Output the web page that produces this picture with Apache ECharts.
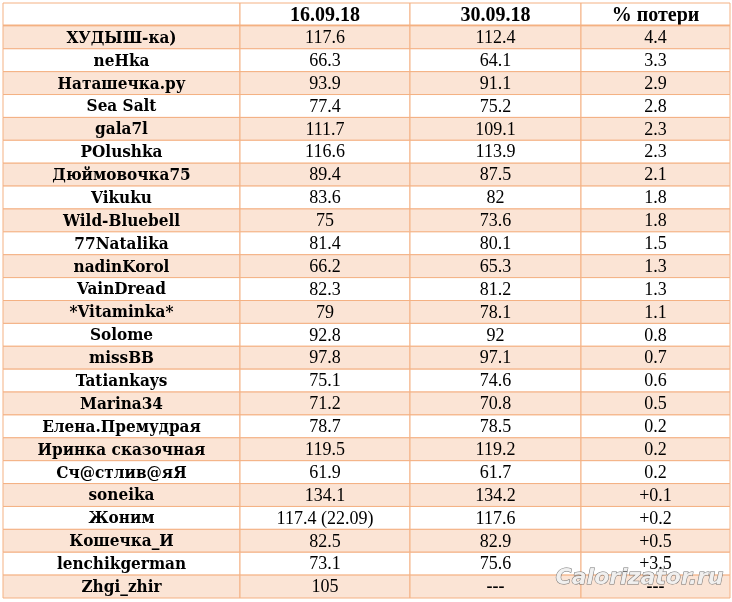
<!DOCTYPE html>
<html><head><meta charset="utf-8">
<script src="https://cdn.jsdelivr.net/npm/echarts@6/dist/echarts.min.js"></script>
<style>html,body{margin:0;padding:0;background:#fff}#c{width:732px;height:602px}</style>
</head><body><div id="c"></div>
<script>
const headers = ['', '16.09.18', '30.09.18', '% потери'];
const names = ['ХУДЫШ-ка)','neHka','Наташечка.ру','Sea Salt','gala7l','POlushka','Дюймовочка75','Vikuku','Wild-Bluebell','77Natalika','nadinKorol','VainDread','*Vitaminka*','Solome','missBB','Tatiankays','Marina34','Елена.Премудрая','Иринка сказочная','Сч@стлив@яЯ','soneika','Жоним','Кошечка_И','lenchikgerman','Zhgi_zhir'];
const weight1 = ['117.6','66.3','93.9','77.4','111.7','116.6','89.4','83.6','75','81.4','66.2','82.3','79','92.8','97.8','75.1','71.2','78.7','119.5','61.9','134.1','117.4 (22.09)','82.5','73.1','105'];
const weight2 = ['112.4','64.1','91.1','75.2','109.1','113.9','87.5','82','73.6','80.1','65.3','81.2','78.1','92','97.1','74.6','70.8','78.5','119.2','61.7','134.2','117.6','82.9','75.6','---'];
const loss = ['4.4','3.3','2.9','2.8','2.3','2.3','2.1','1.8','1.8','1.5','1.3','1.3','1.1','0.8','0.7','0.6','0.5','0.2','0.2','0.2','+0.1','+0.2','+0.5','+3.5','---'];

const colEdges = [0, 237, 407, 578, 727];
const rows = ['h'].concat(names.map((n,i)=>'r'+i));
const data = [];
headers.forEach((h,c)=>data.push([c,0,h]));
names.forEach((n,i)=>{
  [n, weight1[i], weight2[i], loss[i]].forEach((t,c)=>data.push([c,i+1,t]));
});
const chart = echarts.init(document.getElementById('c'));
chart.setOption({
  animation:false,
  grid:{left:3,right:2,top:3,bottom:4},
  xAxis:{type:'value',min:0,max:727,show:false},
  yAxis:{type:'category',data:rows,inverse:true,show:false},
  series:[{
    type:'custom',
    data:data,
    renderItem:function(params,api){
      const c=api.value(0), r=api.value(1);
      const text=data[params.dataIndex][2];
      const p0=api.coord([colEdges[c], rows[r]]);
      const p1=api.coord([colEdges[c+1], rows[r]]);
      const h=api.size([0,1])[1];
      const x=p0[0], w=p1[0]-p0[0], y=p0[1]-h/2;
      const fill = (r>0 && r%2===1) ? '#fbe4d5' : '#ffffff';
      const bold = (r===0 || c===0 || text==='---');
      let font;
      if (r===0) font='bold 20px "Liberation Serif"';
      else if (c===0) font='bold 17px "DejaVu Serif Condensed","DejaVu Serif"';
      else font=(bold?'bold ':'')+'18px "Liberation Serif"';
      const children=[
        {type:'rect',shape:{x:x,y:y,width:w,height:h},style:{fill:fill,stroke:'#f4b183',lineWidth:1}},
        {type:'text',style:{text:text,x:x+w/2,y:y+h/2+1,align:'center',verticalAlign:'middle',font:font,fill:'#000'}}
      ];
      if(r===0) children.push({type:'line',shape:{x1:x,y1:y+h,x2:x+w,y2:y+h},style:{stroke:'#f4b183',lineWidth:3}});
      return {type:'group',children:children};
    }
  }],
  graphic:[{type:'text',right:8,bottom:12,z:100,style:{text:'Calorizator.ru',font:'italic bold 22px "DejaVu Sans"',fill:'rgba(240,240,240,0.95)',stroke:'rgba(100,100,100,0.9)',lineWidth:1,shadowColor:'rgba(0,0,0,0.6)',shadowBlur:4,shadowOffsetX:2,shadowOffsetY:2}}]
});
</script></body></html>
